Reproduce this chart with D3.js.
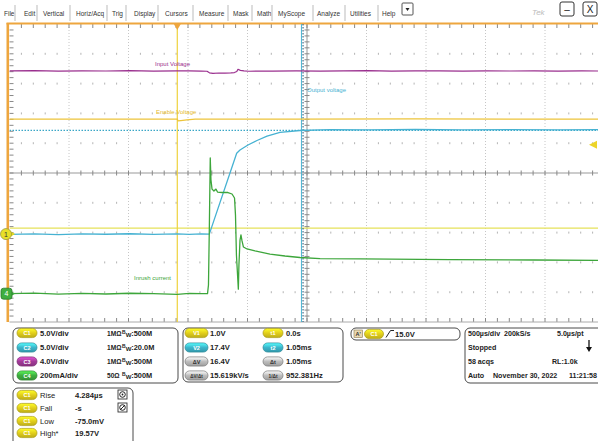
<!DOCTYPE html>
<html><head><meta charset="utf-8">
<script src="https://cdn.jsdelivr.net/npm/d3@7"></script>
<style>
html,body{margin:0;padding:0;background:#fff;}
svg{display:block;font-family:"Liberation Sans",Arial,sans-serif;}
</style></head><body>
<svg id="scope" width="598" height="441"></svg>
<script>
// ---------- menu ----------
const menuItems = ["File","Edit","Vertical","Horiz/Acq","Trig","Display","Cursors","Measure","Mask","Math","MyScope","Analyze","Utilities","Help"];
const menuX     = [4,24,43,76,112,134,165,199,233,257,278,317,350,382];
const menuSep   = [15,37,70,107,126,158,193,228,252,272,313,345,378];

// ---------- acquisition / channel settings ----------
const chanNames  = ["C1","C2","C3","C4"];
const chanColors = ["#e2cf1c","#3cb6cc","#a23a98","#3fae3f"];
const chanScale  = [5, 5, 4, 200];          // units per division
const chanUnits  = ["V/div","V/div","V/div","mA/div"];
const chanPos    = [-2.05, -2.05, -1.5, -4.05]; // ground position, divisions from centre
const chanImp    = ["1MΩ","1MΩ","1MΩ","50Ω"];
const chanBW     = ["500M","20.0M","500M","500M"];

const msPerDiv = 0.5;      // 500 µs/div
const tLeft = -1.41;       // ms at left graticule edge

// ---------- waveforms (time in ms) ----------
// C1 : Enable Voltage (V)
const tC1 = [-1.41,-0.8,-0.3,0,0.005,0.03,0.08,0.15,0.4,1.0,2.0,3.0,3.59];
const vC1 = [19.3,19.3,19.3,19.3,19.0,19.05,19.15,19.28,19.3,19.3,19.32,19.3,19.3];

// C2 : Output voltage (V)
const tC2 = [-1.41,-1.2,-1.0,-0.8,-0.6,-0.4,-0.2,0,0.1,0.2,0.269,0.499,0.527,0.594,0.67,0.754,0.863,1.031,1.283,1.6,2.0,2.4,2.8,3.2,3.59];
const vC2 = [-0.05,0.05,-0.08,0.04,-0.03,0.06,-0.05,0.02,-0.04,0.03,0.0,13.56,14.1,14.95,15.7,16.45,17.05,17.38,17.52,17.5,17.55,17.5,17.54,17.5,17.52];

// C3 : Input Voltage (V)
const tC3 = [-1.41,-1.2,-1.0,-0.8,-0.6,-0.4,-0.2,0,0.1,0.2,0.25,0.27,0.3,0.35,0.4,0.45,0.48,0.5,0.51,0.53,0.56,0.6,0.8,1.0,1.2,1.4,1.6,1.8,2.0,2.2,2.4,2.6,2.8,3.0,3.2,3.4,3.59];
const vC3 = [19.70,19.74,19.68,19.72,19.69,19.73,19.68,19.72,19.70,19.68,19.66,19.45,19.38,19.42,19.40,19.44,19.48,19.62,19.92,19.78,19.70,19.66,19.68,19.71,19.67,19.70,19.73,19.68,19.70,19.72,19.67,19.71,19.69,19.72,19.68,19.70,19.69];

// C4 : Inrush current (mA)
const tC4 = [-1.41,-1.2,-1.0,-0.8,-0.6,-0.4,-0.2,0,0.1,0.2,0.254,0.262,0.269,0.277,0.283,0.292,0.308,0.325,0.338,0.376,0.426,0.46,0.481,0.489,0.497,0.513,0.518,0.527,0.535,0.544,0.556,0.586,0.653,0.779,0.905,1.031,1.2,1.54,2.29,3.0,3.59];
const iC4 = [0,4,-3,2,-2,3,0,-4,2,0,0,58,427,911,763,702,689,702,682,679,679,669,642,528,260,30,193,360,394,354,313,300,287,266,253,243,236,233,229,226,223];

// ---------- cursors / trigger ----------
const cursorV = [1.0, 17.4];        // V1, V2
const cursorT = [0.0, 1.05];        // t1, t2 (ms)
const trigLevel = 15.0;             // C1 rising edge

// ---------- readouts ----------
const curLabelsA = ["V1","V2","ΔV","ΔV/Δt"];
const curValuesA = ["1.0V","17.4V","16.4V","15.619kV/s"];
const curLabelsB = ["t1","t2","Δt","1/Δt"];
const curValuesB = ["0.0s","1.05ms","1.05ms","952.381Hz"];
const measNames  = ["Rise","Fall","Low","High*"];
const measValues = ["4.284µs","-s","-75.0mV","19.57V"];
const horizRows  = [["500µs/div","200kS/s","5.0µs/pt"],["Stopped","",""],["58 acqs","","RL:1.0k"],["Auto","November 30, 2022","11:21:58"]];

// ================= drawing =================
const svg = d3.select("#scope");
const defs = svg.append("defs");

const X0 = 9.5, DX = 59.5, Y0 = 24, DY = 29.8;
const XR = X0 + 10*DX, YB = Y0 + 10*DY;
const x = d3.scaleLinear().domain([tLeft, tLeft + 10*msPerDiv]).range([X0, XR]);
const yDiv = d3.scaleLinear().domain([-5, 5]).range([YB, Y0]);
const yCh = (c, v) => yDiv(chanPos[c] + v / chanScale[c]);
const xDiv = i => X0 + i*DX;

// menu bar
const menuG = svg.append("g").attr("font-size", 6.5).attr("fill", "#333");
menuItems.forEach((m, i) => menuG.append("text").attr("x", menuX[i]).attr("y", 16).text(m));
menuSep.forEach(s => menuG.append("line").attr("x1", s).attr("x2", s).attr("y1", 5).attr("y2", 21).attr("stroke", "#bbb"));
menuG.append("rect").attr("x", 402).attr("y", 3).attr("width", 11).attr("height", 12).attr("fill", "#fff").attr("stroke", "#555").attr("rx", 1);
menuG.append("path").attr("d", "M405.5,8 L409.5,8 L407.5,11 Z").attr("fill", "#222");
svg.append("text").attr("x", 532).attr("y", 15).attr("font-size", 8).attr("fill", "#bbb").attr("font-style", "italic").text("Tek");
[[560, "–"], [583, "X"]].forEach(([bx, s]) => {
  svg.append("rect").attr("x", bx).attr("y", 2).attr("width", 14).attr("height", 14).attr("rx", 2).attr("fill", "#fff").attr("stroke", "#333");
  svg.append("text").attr("x", bx + 7).attr("y", 13).attr("text-anchor", "middle").attr("font-size", 10).attr("fill", "#222").text(s);
});

// graticule
const grid = svg.append("g");
for (let i = 1; i < 10; i++) {
  if (i === 5) continue;
  grid.append("line").attr("x1", xDiv(i)).attr("x2", xDiv(i)).attr("y1", Y0).attr("y2", YB)
    .attr("stroke", "#b8b8b8").attr("stroke-width", 0.8).attr("stroke-dasharray", "1,2");
}
for (let k = 1; k < 10; k++) {
  if (k === 5) continue;
  const yy = Y0 + k*DY;
  for (let j = 1; j < 50; j++) {
    if (j % 5 === 0) continue;
    grid.append("rect").attr("x", X0 + j*DX/5 - 0.5).attr("y", yy - 1).attr("width", 1).attr("height", 2).attr("fill", "#b4b4b4");
  }
}
// centre axes with minor ticks
const yC = Y0 + 5*DY, xC = X0 + 5*DX;
grid.append("line").attr("x1", X0).attr("x2", 598).attr("y1", yC).attr("y2", yC).attr("stroke", "#999");
grid.append("line").attr("x1", xC).attr("x2", xC).attr("y1", Y0).attr("y2", YB).attr("stroke", "#999");
for (let j = 1; j < 50; j++) {
  const xx = X0 + j*DX/5;
  grid.append("line").attr("x1", xx).attr("x2", xx).attr("y1", yC - 2.5).attr("y2", yC + 2.5).attr("stroke", "#888");
  const yy = Y0 + j*DY/5;
  grid.append("line").attr("x1", xC - 2.5).attr("x2", xC + 2.5).attr("y1", yy).attr("y2", yy).attr("stroke", "#888");
}
// edge rulers
for (let j = 1; j < 50; j++) {
  const xx = X0 + j*DX/5;
  grid.append("line").attr("x1", xx).attr("x2", xx).attr("y1", Y0).attr("y2", Y0 + 4).attr("stroke", "#888");
  grid.append("line").attr("x1", xx).attr("x2", xx).attr("y1", YB - 4).attr("y2", YB).attr("stroke", "#888");
  const yy = Y0 + j*DY/5;
  grid.append("line").attr("x1", X0).attr("x2", X0 + 4).attr("y1", yy).attr("y2", yy).attr("stroke", "#888");
}
grid.append("line").attr("x1", X0).attr("x2", 598).attr("y1", YB).attr("y2", YB).attr("stroke", "#aaa");
svg.append("line").attr("x1", 6.5).attr("x2", 598).attr("y1", Y0 - 0.5).attr("y2", Y0 - 0.5).attr("stroke", "#eea63e").attr("stroke-width", 2);
svg.append("line").attr("x1", 7.8).attr("x2", 7.8).attr("y1", Y0 - 1).attr("y2", YB).attr("stroke", "#eea63e").attr("stroke-width", 2.6);

// clip for traces
defs.append("clipPath").attr("id", "plotClip").append("rect").attr("x", X0).attr("y", Y0).attr("width", 598 - X0).attr("height", YB - Y0);
const plot = svg.append("g").attr("clip-path", "url(#plotClip)");

// cursors
plot.append("line").attr("x1", X0).attr("x2", 598).attr("y1", yCh(0, cursorV[0])).attr("y2", yCh(0, cursorV[0]))
  .attr("stroke", "#e6e25a").attr("stroke-width", 1.1);
plot.append("line").attr("x1", X0).attr("x2", 598).attr("y1", yCh(1, cursorV[1])).attr("y2", yCh(1, cursorV[1]))
  .attr("stroke", "#3aa6c6").attr("stroke-width", 1.2).attr("stroke-dasharray", "1.5,1.5");
plot.append("line").attr("x1", x(cursorT[0])).attr("x2", x(cursorT[0])).attr("y1", Y0).attr("y2", YB)
  .attr("stroke", "#efd23c").attr("stroke-width", 1.2);
plot.append("line").attr("x1", x(cursorT[1]) - 0.8).attr("x2", x(cursorT[1]) - 0.8).attr("y1", Y0).attr("y2", YB)
  .attr("stroke", "#4ab4d2").attr("stroke-width", 1);
plot.append("line").attr("x1", x(cursorT[1]) + 0.8).attr("x2", x(cursorT[1]) + 0.8).attr("y1", Y0).attr("y2", YB)
  .attr("stroke", "#1f4f72").attr("stroke-width", 1).attr("stroke-dasharray", "1.5,1.5");

// traces
function trace(c, ts, vs, color, w) {
  const line = d3.line().x((d, i) => x(ts[i])).y(d => yCh(c, d));
  plot.append("path").attr("d", line(vs)).attr("fill", "none").attr("stroke", color).attr("stroke-width", w)
    .attr("stroke-linejoin", "round");
}
trace(2, tC3, vC3, "#9a2f8e", 1.2);
trace(0, tC1, vC1, "#edc43a", 1.3);
trace(1, tC2, vC2, "#46b2d2", 1.3);
trace(3, tC4, iC4, "#3da63b", 1.3);

// trace labels
const lab = svg.append("g").attr("font-size", 6);
lab.append("text").attr("x", 155).attr("y", 66).attr("fill", "#9a2f8e").text("Input Voltage");
lab.append("text").attr("x", 156).attr("y", 114).attr("fill", "#e3b82a").text("Enable Voltage");
lab.append("text").attr("x", 307).attr("y", 92).attr("fill", "#46b2d2").text("Output voltage");
lab.append("text").attr("x", 134).attr("y", 280).attr("fill", "#3da63b").text("Inrush current");

// trigger position marker (top) and trigger level (right)
svg.append("path").attr("d", `M${x(0) - 3.5},${Y0} L${x(0) + 3.5},${Y0} L${x(0)},${Y0 + 6} Z`).attr("fill", "#eea63e");
const yTrig = yCh(0, trigLevel);
svg.append("path").attr("d", `M589,${yTrig} L597,${yTrig - 4} L597,${yTrig + 4} Z`).attr("fill", "#ecd42a");

// ground markers
const g1 = yCh(0, 0), g4 = yCh(3, 0);
svg.append("path").attr("d", `M10,${g1 - 3} L15,${g1} L10,${g1 + 3} Z`).attr("fill", "#e2d81c");
svg.append("circle").attr("cx", 6).attr("cy", g1).attr("r", 5.5).attr("fill", "#e8e028").attr("stroke", "#9a9a40").attr("stroke-width", 0.8);
svg.append("text").attr("x", 6).attr("y", g1 + 2.5).attr("text-anchor", "middle").attr("font-size", 7).attr("fill", "#333").text("1");
svg.append("path").attr("d", `M10,${g4 - 3} L15,${g4} L10,${g4 + 3} Z`).attr("fill", "#3fae3f");
svg.append("rect").attr("x", 1).attr("y", g4 - 5.5).attr("width", 11).attr("height", 11).attr("rx", 2.5).attr("fill", "#3fae3f").attr("stroke", "#2b7a2b").attr("stroke-width", 0.8);
svg.append("text").attr("x", 6.5).attr("y", g4 + 2.5).attr("text-anchor", "middle").attr("font-size", 7).attr("fill", "#fff").text("4");

// ---------- readout panels ----------
function grad(id, c) {
  const g = defs.append("linearGradient").attr("id", id).attr("x1", 0).attr("y1", 0).attr("x2", 0).attr("y2", 1);
  g.append("stop").attr("offset", "0%").attr("stop-color", d3.color(c).brighter(1.0));
  g.append("stop").attr("offset", "50%").attr("stop-color", c);
  g.append("stop").attr("offset", "100%").attr("stop-color", d3.color(c).darker(0.5));
}
chanColors.forEach((c, i) => grad("bg" + i, c));
grad("bgGray", "#bdbdbd");

function badge(cx, cy, w, label, gid, stroke, tc, fs) {
  svg.append("rect").attr("x", cx - w/2).attr("y", cy - 4.6).attr("width", w).attr("height", 9.2).attr("rx", 4.6)
    .attr("fill", `url(#${gid})`).attr("stroke", stroke).attr("stroke-width", 0.7);
  svg.append("text").attr("x", cx).attr("y", cy + 2).attr("text-anchor", "middle").attr("font-size", fs || 5.5)
    .attr("font-weight", "bold").attr("fill", tc).text(label);
}
function panel(x0, y0, w, h) {
  svg.append("rect").attr("x", x0).attr("y", y0).attr("width", w).attr("height", h).attr("rx", 5)
    .attr("fill", "#fff").attr("stroke", "#4a4a4a").attr("stroke-width", 1);
}
const rowY = [333, 347.5, 361.5, 375.5];
const txt = (x0, y0, s, anchor, fs) => svg.append("text").attr("x", x0).attr("y", y0).attr("font-size", fs || 7.6)
  .attr("font-weight", "bold").attr("fill", "#222").attr("text-anchor", anchor || "start").text(s);
const strokeOf = c => d3.color(c).darker(0.8);

// channel panel
panel(13, 328, 165, 55);
chanNames.forEach((n, i) => {
  badge(27, rowY[i], 20, n, "bg" + i, strokeOf(chanColors[i]), "#fff");
  txt(40, rowY[i] + 2.8, (chanScale[i] === 200 ? "200" : chanScale[i].toFixed(1)) + chanUnits[i]);
  txt(107, rowY[i] + 2.8, chanImp[i], "start", 6.6);
  const t = svg.append("text").attr("x", 122).attr("y", rowY[i] + 2.8).attr("font-size", 7.4).attr("font-weight", "bold").attr("fill", "#222");
  t.append("tspan").attr("font-size", 5).attr("dy", -2.2).text("B");
  t.append("tspan").attr("font-size", 6).attr("dy", 3.2).text("W");
  t.append("tspan").attr("dy", -1).text(":" + chanBW[i]);
});

// cursor panel
panel(183, 328, 160, 54);
const curColA = ["bg0", "bg1", "bgGray", "bgGray"];
curLabelsA.forEach((l, i) => {
  const gray = curColA[i] === "bgGray";
  badge(196.5, rowY[i], 23, l, curColA[i], gray ? "#777" : strokeOf(i ? chanColors[1] : chanColors[0]), gray ? "#333" : "#fff", l.length > 3 ? 4.6 : 5.5);
  txt(210, rowY[i] + 2.8, curValuesA[i]);
  badge(273, rowY[i], 20, curLabelsB[i], curColA[i], gray ? "#777" : strokeOf(i ? chanColors[1] : chanColors[0]), gray ? "#333" : "#fff", curLabelsB[i].length > 3 ? 4.8 : 5.5);
  txt(286, rowY[i] + 2.8, curValuesB[i]);
});

// trigger panel
panel(351, 328, 109, 12);
svg.append("rect").attr("x", 354).attr("y", 330).attr("width", 8.5).attr("height", 7.5).attr("fill", "#ead9b0").attr("stroke", "#8a7a50").attr("stroke-width", 0.6);
svg.append("text").attr("x", 358.2).attr("y", 336.3).attr("text-anchor", "middle").attr("font-size", 5.5).attr("font-weight", "bold").attr("fill", "#333").text("A'");
badge(374, 334, 19, "C1", "bg0", strokeOf(chanColors[0]), "#fff");
svg.append("path").attr("d", "M386,337.5 L390.5,330.5 L394,330.5").attr("fill", "none").attr("stroke", "#222").attr("stroke-width", 1);
txt(395, 337, trigLevel.toFixed(1) + "V");

// horizontal / acquisition panel
panel(465, 328, 140, 55);
const hx = [[468, 504, 557], [468, 0, 0], [468, 0, 552], [468, 493, 597]];
horizRows.forEach((r, i) => r.forEach((s, j) => {
  if (s) txt(hx[i][j], rowY[i] + 2.8, s, (i === 3 && j === 2) ? "end" : "start", 7.1);
}));
svg.append("line").attr("x1", 589).attr("x2", 589).attr("y1", 340).attr("y2", 349).attr("stroke", "#111").attr("stroke-width", 1.3);
svg.append("path").attr("d", "M586,347 L592,347 L589,352 Z").attr("fill", "#111");

// measurement panel
panel(13, 388, 120, 60);
const measY = [395, 408, 421, 433];
measNames.forEach((m, i) => {
  badge(27, measY[i], 20, "C1", "bg0", strokeOf(chanColors[0]), "#fff");
  svg.append("text").attr("x", 40).attr("y", measY[i] + 2.8).attr("font-size", 7.6).attr("fill", "#222").text(m);
  txt(75, measY[i] + 2.8, measValues[i]);
});
// statistics icons
svg.append("rect").attr("x", 118).attr("y", 390).attr("width", 9).attr("height", 9).attr("fill", "#fff").attr("stroke", "#333").attr("stroke-width", 0.9);
svg.append("circle").attr("cx", 122.5).attr("cy", 394.5).attr("r", 2.8).attr("fill", "none").attr("stroke", "#222").attr("stroke-width", 1);
svg.append("circle").attr("cx", 122.5).attr("cy", 394.5).attr("r", 0.9).attr("fill", "#222");
svg.append("rect").attr("x", 118).attr("y", 403).attr("width", 9).attr("height", 9).attr("fill", "#fff").attr("stroke", "#333").attr("stroke-width", 0.9);
svg.append("circle").attr("cx", 122.5).attr("cy", 407.5).attr("r", 2.8).attr("fill", "none").attr("stroke", "#222").attr("stroke-width", 1);
svg.append("line").attr("x1", 120).attr("x2", 125).attr("y1", 410).attr("y2", 405).attr("stroke", "#222").attr("stroke-width", 1);
</script>
</body></html>
